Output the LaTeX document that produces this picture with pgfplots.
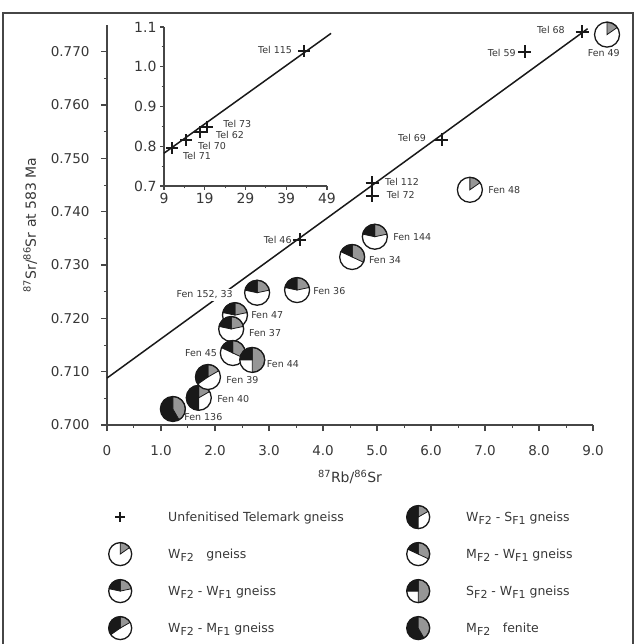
\documentclass[border=0pt]{standalone}
\usepackage{fontspec}
\setmainfont{DejaVu Sans}
\usepackage{pgfplots}
\pgfplotsset{compat=1.18}

\definecolor{pgrey}{RGB}{150,150,150}
\definecolor{pblack}{RGB}{25,25,25}
\definecolor{axcol}{RGB}{70,70,70}
\definecolor{txt}{RGB}{55,55,55}

\newcommand\slice[3]{%
  \pgfpathmoveto{\pgfpointorigin}%
  \pgfpathlineto{\pgfpointpolar{#1}{\pgfplotmarksize}}%
  \pgfpatharc{#1}{#2}{\pgfplotmarksize}%
  \pgfpathclose
  \pgfsetfillcolor{#3}%
  \pgfusepath{fill,stroke}}
\newcommand\piebase[1]{%
  \pgfsetlinewidth{0.8pt}\pgfsetstrokecolor{pblack}%
  \pgfpathcircle{\pgfpointorigin}{\pgfplotmarksize}%
  \pgfsetfillcolor{#1}\pgfusepath{fill}}
\newcommand\pieoutline{%
  \pgfsetlinewidth{1.3pt}%
  \pgfpathcircle{\pgfpointorigin}{\pgfplotmarksize}\pgfusepath{stroke}}

\pgfdeclareplotmark{pieW}{\piebase{white}\slice{35}{90}{pgrey}\pieoutline}
\pgfdeclareplotmark{pieWW}{\piebase{white}\slice{12}{90}{pgrey}\slice{90}{168}{pblack}\pieoutline}
\pgfdeclareplotmark{pieWM}{\piebase{white}\slice{30}{90}{pgrey}\slice{90}{215}{pblack}\pieoutline}
\pgfdeclareplotmark{pieWS}{\piebase{white}\slice{30}{90}{pgrey}\slice{90}{270}{pblack}\pieoutline}
\pgfdeclareplotmark{pieMW}{\piebase{white}\slice{-25}{90}{pgrey}\slice{90}{155}{pblack}\pieoutline}
\pgfdeclareplotmark{pieSW}{\piebase{white}\slice{-90}{90}{pgrey}\slice{90}{180}{pblack}\pieoutline}
\pgfdeclareplotmark{pieM}{\piebase{pblack}\slice{-60}{90}{pgrey}\pieoutline}

\newcommand\subt[1]{\raisebox{-0.45ex}{\fontsize{11}{12}\selectfont #1}}
\newcommand\lab{\fontsize{9.5}{11}\selectfont}
\newcommand\lft[1]{\makebox[236.5pt][l]{#1}}

\begin{document}
\begin{tikzpicture}
\useasboundingbox (-107pt,-219pt) rectangle (529pt,425pt);
\draw[line width=1.5pt, axcol] (-104pt,-240pt) rectangle (526pt,412pt);

\begin{axis}[
  at={(0pt,0pt)}, anchor=south west,
  scale only axis, width=486pt, height=400pt,
  xmin=0, xmax=9, ymin=0.700, ymax=0.775,
  clip=false,
  axis x line*=bottom, axis y line*=left,
  axis line style={line width=1.4pt, axcol, -},
  xtick={0,1,2,3,4,5,6,7,8,9},
  xticklabels={0,1.0,2.0,3.0,4.0,5.0,6.0,7.0,8.0,9.0},
  ytick={0.700,0.710,0.720,0.730,0.740,0.750,0.760,0.770},
  yticklabels={0.700,0.710,0.720,0.730,0.740,0.750,0.760,0.770},
  minor x tick num=1, minor y tick num=1,
  tick align=outside,
  major tick length=6pt, minor tick length=3pt,
  major tick style={line width=1.2pt, axcol},
  minor tick style={line width=1.0pt, axcol},
  /pgf/number format/assume math mode=true,
  ticklabel style={font=\fontsize{13.5}{15}\selectfont, text=txt},
  xticklabel style={yshift=-11pt},
  yticklabel style={xshift=-8pt},
  xlabel={\textsuperscript{87}Rb/\textsuperscript{86}Sr},
  ylabel={\textsuperscript{87}Sr/\textsuperscript{86}Sr at 583 Ma},
  every axis x label/.style={at={(axis description cs:0.5,-0.13)}, anchor=center, font=\fontsize{14}{16}\selectfont, text=txt},
  every axis y label/.style={at={(axis description cs:-0.158,0.5)}, rotate=90, anchor=center, font=\fontsize{14}{16}\selectfont, text=txt},
  legend columns=2,
  legend cell align=left,
  legend image code/.code={\path[draw=none,fill=none] (-13.5pt,-13.5pt) rectangle (13.5pt,13.5pt); \path[#1] plot coordinates {(0pt,0pt)};},
  legend style={draw=none, fill=none, at={(-0.001,-0.196)}, anchor=north west,
    inner sep=0pt, row sep=10pt, nodes={inner sep=0pt, text=txt},
    font=\fontsize{12.5}{15}\selectfont,
    /tikz/every odd column/.append style={column sep=34.5pt}},
]
% legend entries
\addlegendimage{only marks, mark=+, mark size=5pt, line width=1.6pt, pblack}
\addlegendentry{\lft{Unfenitised Telemark gneiss}}
\addlegendimage{only marks, mark=pieWS, mark size=11.5pt}
\addlegendentry{W\subt{F2} - S\subt{F1} gneiss}
\addlegendimage{only marks, mark=pieW, mark size=11.5pt}
\addlegendentry{\lft{W\subt{F2}\quad gneiss}}
\addlegendimage{only marks, mark=pieMW, mark size=11.5pt}
\addlegendentry{M\subt{F2} - W\subt{F1} gneiss}
\addlegendimage{only marks, mark=pieWW, mark size=11.5pt}
\addlegendentry{\lft{W\subt{F2} - W\subt{F1} gneiss}}
\addlegendimage{only marks, mark=pieSW, mark size=11.5pt}
\addlegendentry{S\subt{F2} - W\subt{F1} gneiss}
\addlegendimage{only marks, mark=pieWM, mark size=11.5pt}
\addlegendentry{\lft{W\subt{F2} - M\subt{F1} gneiss}}
\addlegendimage{only marks, mark=pieM, mark size=11.5pt}
\addlegendentry{M\subt{F2}\quad fenite}

% isochron line
\addplot[line width=1.5pt, pblack, forget plot] coordinates {(0,0.7088) (8.9,0.7743)};
% unfenitised
\addplot[only marks, mark=+, mark size=6.5pt, line width=2.2pt, pblack, forget plot] coordinates {
 (8.80,0.7737) (7.74,0.7700) (6.20,0.7535) (4.91,0.7454) (4.91,0.7430) (3.57,0.7347)};
% pies
\addplot[only marks, mark=pieW, mark size=12.5pt, forget plot] coordinates {(9.26,0.7732) (6.72,0.7441)};
\addplot[only marks, mark=pieWW, mark size=12.5pt, forget plot] coordinates {
 (4.96,0.7353) (2.78,0.7248) (3.52,0.7253) (2.37,0.7206) (2.30,0.7180)};
\addplot[only marks, mark=pieMW, mark size=12.5pt, forget plot] coordinates {(4.54,0.7315) (2.33,0.7135)};
\addplot[only marks, mark=pieSW, mark size=12.5pt, forget plot] coordinates {(2.69,0.7122)};
\addplot[only marks, mark=pieWS, mark size=12.5pt, forget plot] coordinates {(1.70,0.7051)};
\addplot[only marks, mark=pieWM, mark size=12.5pt, forget plot] coordinates {(1.87,0.7090)};
\addplot[only marks, mark=pieM, mark size=12.5pt, forget plot] coordinates {(1.22,0.7030)};

% labels
\begin{scope}[every node/.style={font=\lab, text=txt, inner sep=1pt}]
\node[anchor=east] at (axis cs:8.50,0.7741) {Tel 68};
\node[anchor=center] at (axis cs:9.20,0.7698) {Fen 49};
\node[anchor=east] at (axis cs:7.59,0.7698) {Tel 59};
\node[anchor=east] at (axis cs:5.93,0.7538) {Tel 69};
\node[anchor=west] at (axis cs:5.13,0.7456) {Tel 112};
\node[anchor=west] at (axis cs:5.16,0.7432) {Tel 72};
\node[anchor=west] at (axis cs:7.04,0.7441) {Fen 48};
\node[anchor=west] at (axis cs:5.28,0.7353) {Fen 144};
\node[anchor=west] at (axis cs:4.83,0.7310) {Fen 34};
\node[anchor=east] at (axis cs:3.44,0.7347) {Tel 46};
\node[anchor=east, fill=white, inner sep=2pt] at (axis cs:2.37,0.7244) {Fen 152, 33};
\node[anchor=west] at (axis cs:3.80,0.7251) {Fen 36};
\node[anchor=west] at (axis cs:2.65,0.7206) {Fen 47};
\node[anchor=west] at (axis cs:2.61,0.7173) {Fen 37};
\node[anchor=east] at (axis cs:2.06,0.7135) {Fen 45};
\node[anchor=west] at (axis cs:2.94,0.7114) {Fen 44};
\node[anchor=west] at (axis cs:2.19,0.7084) {Fen 39};
\node[anchor=west] at (axis cs:2.02,0.7049) {Fen 40};
\node[anchor=west] at (axis cs:1.41,0.7015) {Fen 136};
\end{scope}
\end{axis}

\begin{axis}[
  at={(57pt,239pt)}, anchor=south west,
  scale only axis, width=163pt, height=159pt,
  xmin=9, xmax=49, ymin=0.7, ymax=1.1,
  clip=false,
  axis x line*=bottom, axis y line*=left,
  axis line style={line width=1.4pt, axcol, -},
  xtick={9,19,29,39,49},
  ytick={0.7,0.8,0.9,1.0,1.1},
  yticklabels={0.7,0.8,0.9,1.0,1.1},
  minor x tick num=1, minor y tick num=1,
  tick align=outside,
  major tick length=4pt, minor tick length=2.5pt,
  major tick style={line width=1.2pt, axcol},
  minor tick style={line width=1.0pt, axcol},
  /pgf/number format/assume math mode=true,
  ticklabel style={font=\fontsize{14}{16}\selectfont, text=txt},
]
\addplot[line width=1.5pt, pblack] coordinates {(9,0.7825) (50,1.084)};
\addplot[only marks, mark=+, mark size=6pt, line width=2pt, pblack] coordinates {
 (43.4,1.040) (11.0,0.795) (14.4,0.815) (17.8,0.835) (19.6,0.8475)};
\begin{scope}[every node/.style={font=\lab, text=txt, inner sep=1pt}]
\node[anchor=east] at (axis cs:40.7,1.0425) {Tel 115};
\node[anchor=west] at (axis cs:23.3,0.855) {Tel 73};
\node[anchor=west] at (axis cs:21.5,0.8275) {Tel 62};
\node[anchor=west] at (axis cs:17.1,0.800) {Tel 70};
\node[anchor=west] at (axis cs:13.4,0.775) {Tel 71};
\end{scope}
\end{axis}
\end{tikzpicture}
\end{document}
